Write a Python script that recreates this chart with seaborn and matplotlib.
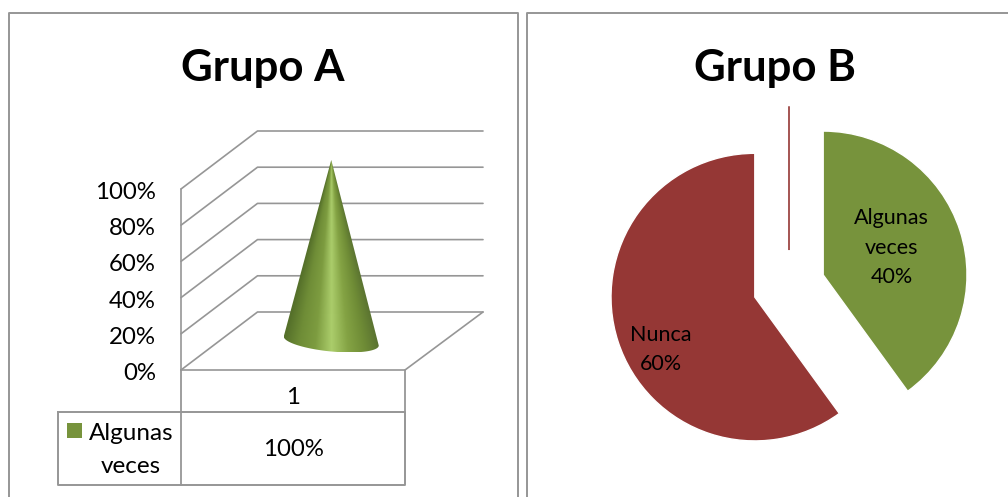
import numpy as np
import matplotlib
matplotlib.use('Agg')
import matplotlib.pyplot as plt
from matplotlib.patches import Polygon
from matplotlib.transforms import ScaledTranslation
import seaborn as sns

# Grupo A
yticks_a = [0, 20, 40, 60, 80, 100]
ytick_labels_a = ['0%', '20%', '40%', '60%', '80%', '100%']
cat_a = ['1']
value_a = [100]
legend_a = 'Algunas\nveces'

# Grupo B
names_b = ['Algunas\nveces', 'Nunca', '']
values_b = [40, 60, 0]

GREEN = '#77933c'
RED = '#953735'
GRID = '#969696'
W, H = 1008, 497

sns.set_theme(style='white')
plt.rcParams['font.family'] = ['Lato', 'DejaVu Sans']

fig = plt.figure(figsize=(W / 100, H / 100), dpi=100, facecolor='white')

# overlay in pixels for the panel frames and the data table
bg = fig.add_axes([0, 0, 1, 1])
bg.set_xlim(0, W)
bg.set_ylim(H, 0)
bg.axis('off')

bg.plot([9, 9, 518, 518], [H, 13, 13, H], color=GRID, lw=1.4)
bg.plot([527, 527, W], [H, 13, 13], color=GRID, lw=1.4)
bg.text(263, 68, 'Grupo A', ha='center', va='center', fontsize=31.5, fontweight='bold', color='black')
bg.text(775, 68, 'Grupo B', ha='center', va='center', fontsize=31.5, fontweight='bold', color='black')

# data table under Grupo A
bg.plot([58, 405, 405, 58, 58], [412, 412, 485, 485, 412], color=GRID, lw=1.4)
bg.plot([181, 181], [370, 485], color=GRID, lw=1.3)
bg.plot([405, 405], [370, 412], color=GRID, lw=1.3)
bg.fill([67, 82, 82, 67], [423, 423, 438, 438], color=GREEN, lw=0)
bg.text(131, 450, legend_a, ha='center', va='center', fontsize=17.5, linespacing=1.68, color='black')
bg.text(293, 450, f'{value_a[0]}%', ha='center', va='center', fontsize=17.3, color='black')

# Grupo A chart, axes = the front plane of the 3D box
ax = fig.add_axes([181 / W, 1 - 370 / H, 224 / W, 181 / H])
ax.patch.set_alpha(0)
sx, sy = 1 / 224, 100 / 181          # data units per pixel
depth_x, depth_y = 76.5 * sx, 58 * sy

for t in yticks_a:
    sns.lineplot(x=[0, depth_x, 302 * sx], y=[t, t + depth_y, t + depth_y], sort=False,
                 estimator=None, errorbar=None, color=GRID, lw=1.2, clip_on=False, ax=ax)
sns.lineplot(x=[0, 0], y=[yticks_a[0], yticks_a[-1]], sort=False, estimator=None,
             errorbar=None, color=GRID, lw=1.2, clip_on=False, ax=ax)
sns.lineplot(x=[0, 1, 302 * sx], y=[0, 0, depth_y], sort=False, estimator=None,
             errorbar=None, color=GRID, lw=1.2, clip_on=False, ax=ax)

# cone: shaded image clipped to the silhouette, the shading converges at the apex
cx = 0.5 + depth_x / 2
cy = depth_y / 2
apex = cy + value_a[0]
half_w = 47.5 * sx
n = 256
shades = np.array(sns.blend_palette(['#55702a', '#6f8d37', '#7d9c40', '#abcd6b', '#84a344', '#6f8c36', '#587030'], n))
t = np.linspace(np.pi, 0, 120)
bx = cx + np.cos(t) * half_w
by = cy - np.cos(t) * 4.5 * sy - np.sin(t) * 10.5 * sy

left, right = cx - half_w, cx + half_w
low = by.min()
gx, gy = np.meshgrid(np.linspace(left, right, 300), np.linspace(apex, low, 500))
frac = np.clip((apex - gy) / (apex - cy), 0.002, None)
u = np.clip((gx - cx) / (half_w * frac), -1, 1)
rgb = shades[((u + 1) / 2 * (n - 1)).astype(int)]
im = ax.imshow(rgb, extent=(left, right, low, apex), aspect='auto', zorder=3, interpolation='bilinear')
sil = Polygon(np.column_stack([np.r_[cx, bx], np.r_[apex, by]]), closed=True, transform=ax.transData)
im.set_clip_path(sil)
im.set_clip_box(fig.bbox)   # the apex stands above the front plane

ax.set_xlim(0, 1)
ax.set_ylim(0, 100)
ax.set_yticks(yticks_a, ytick_labels_a, fontsize=17.3, color='black')
ax.set_xticks([0.5], cat_a, fontsize=17.3, color='black')
ax.tick_params(axis='y', length=0, pad=18)
ax.tick_params(axis='x', length=0, pad=12)
ax.set(xlabel='', ylabel='')
sns.despine(ax=ax, left=True, bottom=True)
for lab in ax.get_yticklabels():
    lab.set_transform(lab.get_transform() + ScaledTranslation(0, -1.5 / 100, fig.dpi_scale_trans))

# Grupo B pie, radius about 144 px
r = 143.8
ax2 = fig.add_axes([569 / W, 1 - 476 / H, 440 / W, 380 / H])
ax2.patch.set_alpha(0)
wedges, _ = ax2.pie(values_b, colors=[GREEN, RED, RED], explode=[0.25, 0.25, 0.25],
                    startangle=90, counterclock=False, radius=1)
wedges[2].set_edgecolor(RED)
wedges[2].set_linewidth(1.2)
ax2.set_xlim(-220 / r, 220 / r)
ax2.set_ylim(-190 / r, 190 / r)
ax2.text(0.715, 0.266, f'{names_b[0]}\n{values_b[0]}%', ha='center', va='center', fontsize=15.5,
         linespacing=1.58, color='black')
ax2.text(-0.89, -0.44, f'{names_b[1]}\n{values_b[1]}%', ha='center', va='center', fontsize=15.5,
         linespacing=1.58, color='black')

fig.savefig('out.png', dpi=100)
